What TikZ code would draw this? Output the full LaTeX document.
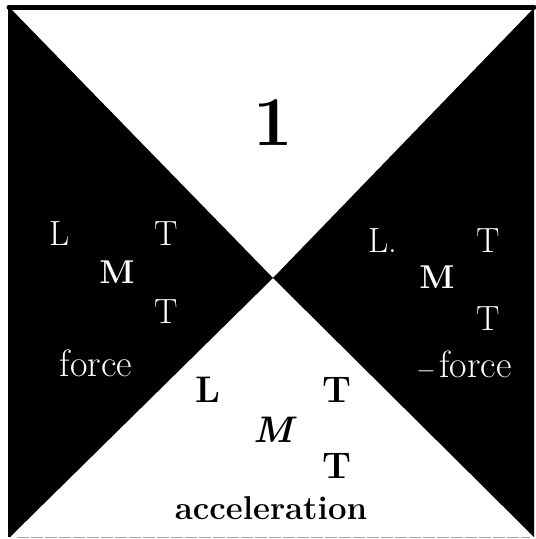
\documentclass[tikz,border=0pt]{standalone}
\usepackage{fontspec}
\begin{document}
\begin{tikzpicture}[x=1pt,y=-1pt,
  wlab/.style={text=white,inner sep=0pt,anchor=base,font=\fontsize{35}{38}\selectfont},
  wbold/.style={wlab,font=\fontsize{33}{36}\selectfont\bfseries},
  blab/.style={text=black,inner sep=0pt,anchor=base,font=\fontsize{37}{40}\selectfont\bfseries}]
\useasboundingbox (0,0) rectangle (536,539);
\fill[white] (0,0) rectangle (536,539);
\coordinate (C) at (273,278);
\coordinate (TL) at (10,8);
\coordinate (TR) at (534,8);
\coordinate (BR) at (534,537);
\coordinate (BL) at (10,537);
% triangles
\fill[black] (TL) -- (BL) -- (C) -- cycle;
\fill[black] (TR) -- (BR) -- (C) -- cycle;
% frame
\draw[line width=5pt,line cap=round] (9,7) -- (534,7);
\draw[line width=3pt] (9,7) -- (9,537);
\draw[gray!70,line width=1pt,dash pattern=on 12pt off 2pt] (17,537.5) -- (530,537.5);
% top
\node[blab,font=\fontsize{70}{74}\selectfont\bfseries] (one) at (273,145) {1};
% left
\node[wlab] (lL) at (60,245) {L};
\node[wlab] (lT1) at (166,245) {T};
\node[wbold] (lM) at (117,283) {M};
\node[wlab] (lT2) at (166,323) {T};
\node[wlab,font=\fontsize{38}{40}\selectfont] (lf) at (96,376) {force};
% right
\node[wlab,anchor=base west] (rL) at (368,252) {L.};
\node[wlab] (rT1) at (488,252) {T};
\node[wbold] (rM) at (437,288) {M};
\node[wlab] (rT2) at (488,330) {T};
\node[wlab,font=\fontsize{38}{40}\selectfont] (rf) at (464,377) {$-$\hspace{0.1em}force};
% bottom
\node[blab] (bL) at (208,402) {L};
\node[blab] (bT1) at (337,402) {T};
\node[blab,font=\fontsize{37}{40}\selectfont\bfseries\itshape] (bM) at (273,442) {M};
\node[blab] (bT2) at (337,478) {T};
\node[blab,font=\fontsize{33}{36}\selectfont\bfseries] (acc) at (271,519) {acceleration};
\end{tikzpicture}
\end{document}
